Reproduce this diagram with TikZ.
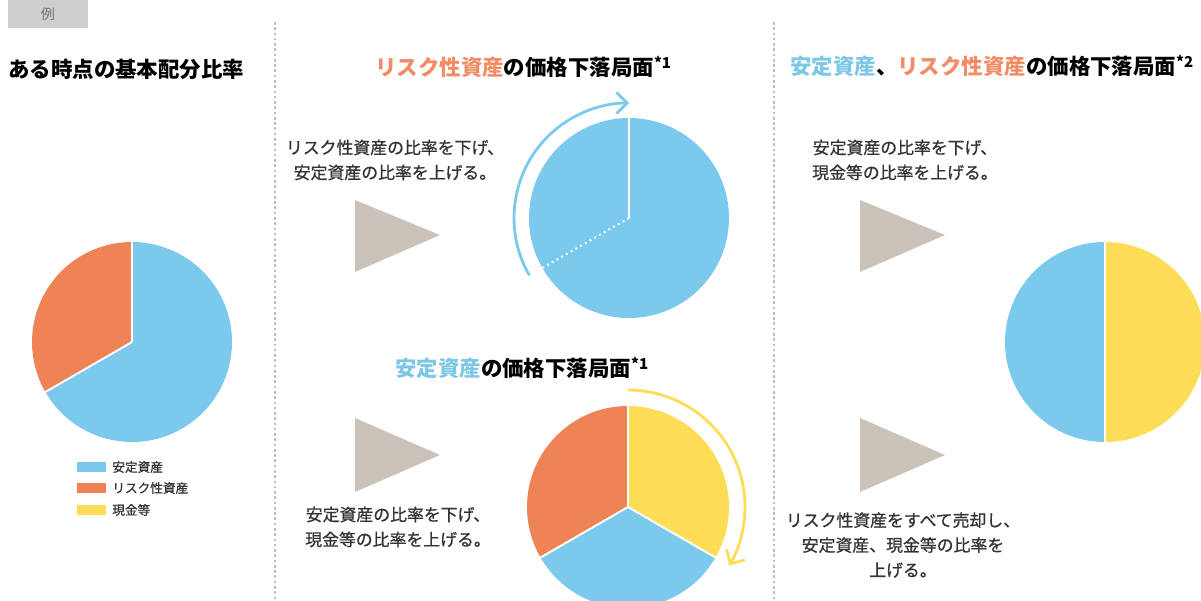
\documentclass[tikz,border=0pt]{standalone}
\usepackage{fontspec}
\setmainfont{Noto Sans CJK JP}
\newfontfamily\medfont{Noto Sans CJK JP}[FakeBold=0.8]
\usepackage{xcolor}
\usetikzlibrary{arrows.meta, calc, positioning}

\definecolor{stable}{HTML}{7CC9EE}
\definecolor{risk}{HTML}{EE8455}
\definecolor{cash}{HTML}{FDDC56}
\definecolor{stabletxt}{HTML}{7CC6E6}
\definecolor{risktxt}{HTML}{F28C66}
\definecolor{tri}{HTML}{CBC2BA}
\definecolor{sepgray}{HTML}{BDBDBD}
\definecolor{bodytxt}{HTML}{333333}

\begin{document}
\begin{tikzpicture}[x=0.02cm, y=0.02cm,
		heading/.style={anchor=west, inner sep=0pt, font=\fontsize{12.2}{14}\selectfont\bfseries},
		note/.style={align=center, inner sep=0pt, text=bodytxt, font=\medfont\fontsize{9.6}{14.2}\selectfont},
		keytext/.style={anchor=west, inner sep=0pt, text=bodytxt, font=\medfont\fontsize{7.2}{8}\selectfont},
		pointer/.style={fill=tri, draw=none},
		divider/.style={sepgray, line width=0.7pt, dash pattern=on 1.5pt off 1.5pt},
		swing/.style={line width=1.6pt, -{Straight Barb[length=6pt, width=12pt, line width=1.6pt]}},
		seam/.style={white, line width=1.1pt}
		]
	
		\clip (0,0) rectangle (1201,600);
	
		% --- Étiquette et séparateurs ---
		\fill[black!19] (8,572) rectangle (88,600);
		\node[text=black!55, font=\fontsize{8}{9}\selectfont] (tag) at (48,586) {例};
		\draw[divider] (275,578) -- (275,0);
		\draw[divider] (774,578) -- (774,0);
	
		% --- Colonne de gauche ---
		\node[heading] (basetitle) at (8,531) {ある時点の基本配分比率};
		\coordinate (base) at (132,258);
		\fill[stable] (base) -- ++(210:100) arc[start angle=210, end angle=450, radius=100] -- cycle;
		\fill[risk] (base) -- ++(90:100) arc[start angle=90, end angle=210, radius=100] -- cycle;
		\draw[seam] (base) -- ++(90:100);
		\draw[seam] (base) -- ++(210:100);
	
		% Légende
		\fill[stable] (77,128) rectangle (106,138);
		\fill[risk] (77,107) rectangle (106,117);
		\fill[cash] (77,85) rectangle (106,95);
		\node[keytext] (keystable) at (112,133) {安定資産};
		\node[keytext] (keyrisk) at (112,112) {リスク性資産};
		\node[keytext] (keycash) at (112,90) {現金等};
	
		% --- Colonne du milieu, en haut ---
		\node[heading] (risktitle) at (375,533) {{\color{risktxt}リスク性資産}の価格下落局面\textsuperscript{*1}};
		\node[note] (risknote) at (395,440) {リスク性資産の比率を下げ、\\安定資産の比率を上げる。};
		\fill[pointer] (355,400) -- (440,365) -- (355,328) -- cycle;
		\coordinate (riskc) at (629,382);
		\fill[stable] (riskc) circle[radius=100];
		\draw[seam] (riskc) -- ++(90:100);
		\draw[seam, dotted] (riskc) -- ++(210:100);
		\draw[stable, swing] ($(riskc)+(210:115)$) arc[start angle=210, end angle=90, radius=115];
	
		% --- Colonne du milieu, en bas ---
		\node[heading] (stabletitle) at (395,232) {{\color{stabletxt}安定資産}の価格下落局面\textsuperscript{*1}};
		\node[note] (stablenote) at (398,73) {安定資産の比率を下げ、\\現金等の比率を上げる。};
		\fill[pointer] (355,182) -- (440,145) -- (355,108) -- cycle;
		\coordinate (stablec) at (628,93);
		\fill[cash] (stablec) -- ++(90:101) arc[start angle=90, end angle=-30, radius=101] -- cycle;
		\fill[stable] (stablec) -- ++(-30:101) arc[start angle=-30, end angle=-150, radius=101] -- cycle;
		\fill[risk] (stablec) -- ++(90:101) arc[start angle=90, end angle=210, radius=101] -- cycle;
		\foreach \a in {90,-30,210}
			\draw[seam] (stablec) -- ++(\a:101);
		\draw[cash, swing] ($(stablec)+(90:117)$) arc[start angle=90, end angle=-30, radius=117];
	
		% --- Colonne de droite ---
		\node[heading] (bothtitle) at (790,534) {{\color{stabletxt}安定資産}、{\color{risktxt}リスク性資産}の価格下落局面\textsuperscript{*2}};
		\node[note] (cashnote) at (905,440) {安定資産の比率を下げ、\\現金等の比率を上げる。};
		\fill[pointer] (860,400) -- (945,365) -- (860,328) -- cycle;
		\fill[pointer] (860,182) -- (945,145) -- (860,108) -- cycle;
		\node[note] (sellnote) at (903,55) {リスク性資産をすべて売却し、\\安定資産、現金等の比率を\\上げる。};
		\coordinate (bothc) at (1105,258);
		\fill[stable] (bothc) -- ++(90:100) arc[start angle=90, end angle=270, radius=100] -- cycle;
		\fill[cash] (bothc) -- ++(-90:100) arc[start angle=-90, end angle=90, radius=100] -- cycle;
		\draw[seam] ($(bothc)+(0,100)$) -- ($(bothc)+(0,-100)$);
	
	\end{tikzpicture}
\end{document}
